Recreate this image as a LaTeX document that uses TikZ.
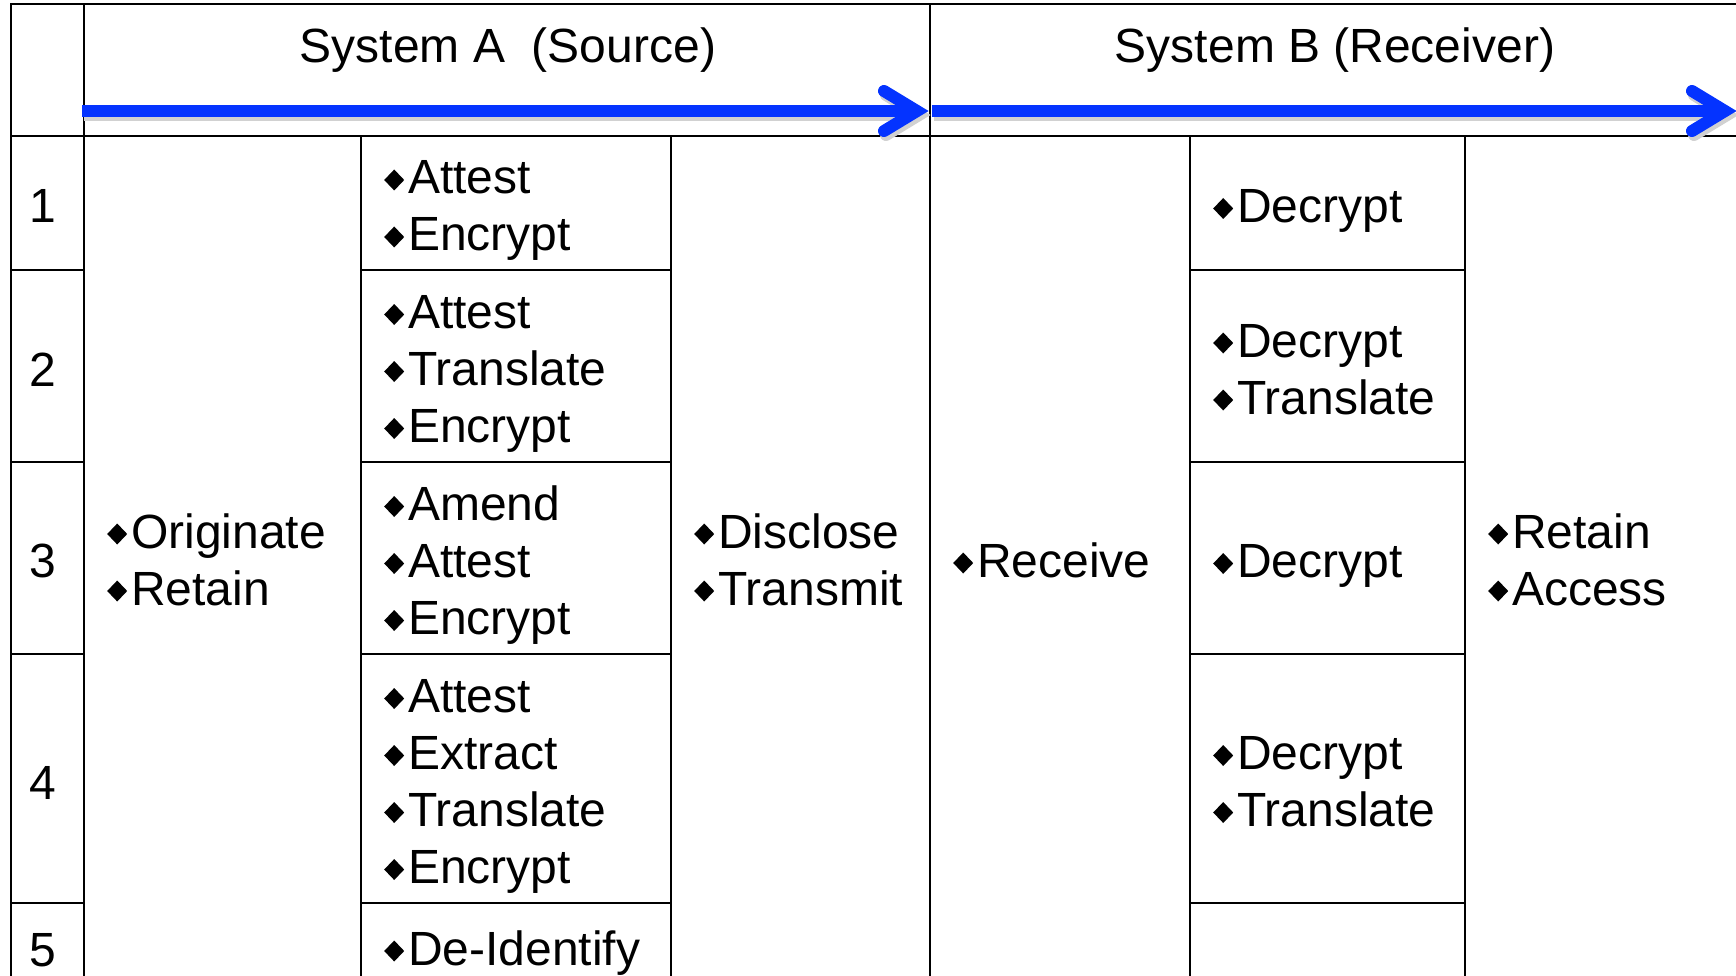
\documentclass[tikz,border=0pt]{standalone}
\usepackage{fontspec}
\setmainfont{Liberation Sans}

\definecolor{flowblue}{RGB}{4,51,255}

\tikzset{
  grid/.style={line width=2.5pt, black, line cap=rect},
  flow/.style={line width=12pt, flowblue},
  flowhead/.style={flow, line cap=round, line join=miter},
  flowshade/.style={line width=12pt, black!18, line cap=round, line join=miter,
    transform canvas={xshift=2pt, yshift=-4pt}},
  item/.style={anchor=base west, inner sep=0pt, font=\fontsize{48}{57}\selectfont},
  title/.style={item, anchor=base},
}

% diamond bullet set before each entry
\newcommand\dmd{\tikz[baseline=0pt]\fill[black] (0pt,14pt) -- (10pt,24.5pt) -- (20pt,14pt) -- (10pt,3.5pt) -- cycle;\hspace{4pt}}

% entries of a cell: #1 name, #2 left edge of the cell, #3 baseline of the first entry, #4 entries
\newcommand\entries[4]{%
  \foreach \lbl [count=\i] in {#4} {
    \node[item] (#1-\i) at (#2+23, #3+57*\i-57) {\dmd\lbl};
  }}
% same, vertically centred in a cell: #3 middle of the cell, #4 number of entries
\newcommand\cellentries[5]{%
  \pgfmathsetmacro\firstbase{#3+19.5-(#4-1)*28.5}%
  \entries{#1}{#2}{\firstbase}{#5}}

\begin{document}
\begin{tikzpicture}[x=1pt, y=-1pt]
\useasboundingbox (0,0) rectangle (1736,976);

% table rules
\draw[grid] (11,4) -- (1736,4);
\draw[grid] (11,136) -- (1736,136);
\foreach \x in {11,84,930} \draw[grid] (\x,4) -- (\x,976);
\foreach \x in {361,671,1190,1465} \draw[grid] (\x,136) -- (\x,976);
\foreach \y in {270,462,654,903} {
  \draw[grid] (11,\y) -- (84,\y);
  \draw[grid] (361,\y) -- (671,\y);
  \draw[grid] (1190,\y) -- (1465,\y);
}

% headings
\node[title] (hdrA) at (508,63) {System A~~(Source)};
\node[title] (hdrB) at (1335,63) {System B (Receiver)};

% flow arrows
\coordinate (a1s) at (82,111);  \coordinate (a1t) at (917,111);
\coordinate (a2s) at (932,111); \coordinate (a2t) at (1725,111);
\foreach \s/\e in {a1s/a1t, a2s/a2t} {
  \draw[flowshade, line cap=butt] (\s) -- (\e);
  \draw[flowshade] (\e) ++(-33,-20) -- (\e) -- ++(-33,20);
}
\foreach \s/\e in {a1s/a1t, a2s/a2t} {
  \draw[flow] (\s) -- (\e);
  \draw[flowhead] (\e) ++(-33,-20) -- (\e) -- ++(-33,20);
}

% row numbers
\foreach \n/\b in {1/223, 2/386, 3/577, 4/799, 5/966}
  \node[item] (row\n) at (29,\b) {\n};

% System A
\entries{orig}{84}{548}{Originate, Retain}
\cellentries{a1}{361}{203}{2}{Attest, Encrypt}
\cellentries{a2}{361}{366}{3}{Attest, Translate, Encrypt}
\cellentries{a3}{361}{558}{3}{Amend, Attest, Encrypt}
\cellentries{a4}{361}{778.5}{4}{Attest, Extract, Translate, Encrypt}
\entries{a5}{361}{965}{De-Identify}
\entries{disc}{671}{548}{Disclose, Transmit}

% System B
\entries{recv}{930}{577}{Receive}
\cellentries{b1}{1190}{203}{1}{Decrypt}
\cellentries{b2}{1190}{366}{2}{Decrypt, Translate}
\cellentries{b3}{1190}{558}{1}{Decrypt}
\cellentries{b4}{1190}{778.5}{2}{Decrypt, Translate}
\entries{keep}{1465}{548}{Retain, Access}
\end{tikzpicture}
\end{document}
